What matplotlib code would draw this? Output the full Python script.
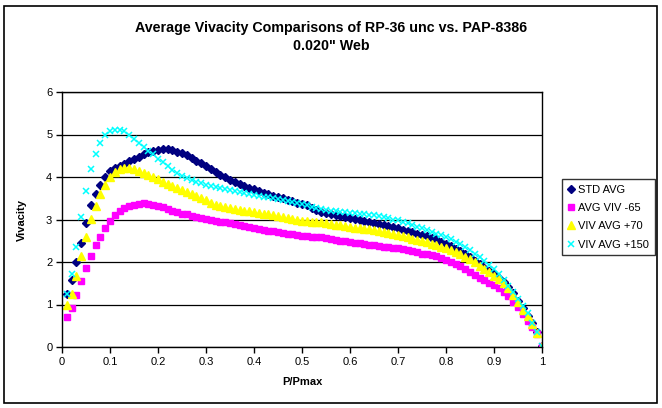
import matplotlib
matplotlib.use('Agg')
import matplotlib.pyplot as plt
from matplotlib.patches import Rectangle

# P/Pmax sample points (0.01 .. 1.00)
p_ratio = [round(0.01 * i, 2) for i in range(1, 101)]

std_avg = [
    1.25, 1.57, 2.01, 2.44, 2.92, 3.33, 3.61, 3.82, 4.00, 4.13,
    4.21, 4.27, 4.31, 4.37, 4.42, 4.47, 4.53, 4.58, 4.62, 4.64,
    4.65, 4.65, 4.63, 4.60, 4.56, 4.51, 4.45, 4.38, 4.32, 4.26,
    4.20, 4.12, 4.05, 3.99, 3.94, 3.89, 3.84, 3.79, 3.75, 3.71,
    3.67, 3.63, 3.59, 3.56, 3.53, 3.50, 3.46, 3.43, 3.40, 3.37,
    3.33, 3.27, 3.23, 3.18, 3.15, 3.12, 3.10, 3.08, 3.07, 3.04,
    3.02, 2.99, 2.97, 2.94, 2.92, 2.90, 2.87, 2.85, 2.82, 2.79,
    2.76, 2.73, 2.70, 2.67, 2.64, 2.61, 2.57, 2.53, 2.48, 2.43,
    2.37, 2.31, 2.25, 2.18, 2.11, 2.03, 1.95, 1.87, 1.79, 1.71,
    1.63, 1.54, 1.42, 1.27, 1.09, 0.91, 0.74, 0.56, 0.35, 0.02,
]

avg_viv_m65 = [
    0.70, 0.92, 1.22, 1.55, 1.85, 2.13, 2.40, 2.60, 2.80, 2.97,
    3.11, 3.20, 3.26, 3.31, 3.34, 3.37, 3.38, 3.37, 3.35, 3.32,
    3.29, 3.25, 3.21, 3.17, 3.14, 3.12, 3.09, 3.06, 3.04, 3.01,
    2.99, 2.97, 2.95, 2.93, 2.91, 2.89, 2.87, 2.85, 2.82, 2.80,
    2.78, 2.76, 2.74, 2.72, 2.70, 2.68, 2.67, 2.65, 2.63, 2.62,
    2.61, 2.60, 2.59, 2.58, 2.56, 2.54, 2.52, 2.50, 2.49, 2.47,
    2.45, 2.44, 2.42, 2.40, 2.39, 2.38, 2.36, 2.35, 2.34, 2.33,
    2.31, 2.28, 2.26, 2.23, 2.20, 2.18, 2.16, 2.13, 2.10, 2.05,
    2.01, 1.96, 1.90, 1.84, 1.77, 1.70, 1.63, 1.57, 1.51, 1.45,
    1.38, 1.30, 1.20, 1.06, 0.93, 0.78, 0.62, 0.47, 0.30, 0.02,
]

viv_avg_p70 = [
    1.00, 1.25, 1.68, 2.15, 2.60, 3.01, 3.32, 3.60, 3.82, 3.99,
    4.11, 4.18, 4.21, 4.21, 4.18, 4.14, 4.10, 4.05, 4.00, 3.95,
    3.89, 3.83, 3.78, 3.73, 3.69, 3.65, 3.61, 3.56, 3.51, 3.46,
    3.40, 3.35, 3.32, 3.29, 3.27, 3.25, 3.23, 3.21, 3.19, 3.18,
    3.16, 3.14, 3.12, 3.10, 3.08, 3.06, 3.04, 3.01, 2.99, 2.97,
    2.96, 2.95, 2.94, 2.93, 2.91, 2.89, 2.88, 2.86, 2.84, 2.82,
    2.81, 2.79, 2.78, 2.77, 2.75, 2.73, 2.71, 2.68, 2.66, 2.64,
    2.61, 2.58, 2.55, 2.52, 2.49, 2.46, 2.43, 2.40, 2.36, 2.32,
    2.28, 2.23, 2.18, 2.12, 2.07, 1.99, 1.91, 1.83, 1.76, 1.68,
    1.60, 1.51, 1.39, 1.23, 1.05, 0.88, 0.72, 0.55, 0.34, 0.02,
]

viv_avg_p150 = [
    1.25, 1.72, 2.35, 3.05, 3.66, 4.19, 4.53, 4.80, 4.99, 5.08,
    5.11, 5.11, 5.08, 5.00, 4.90, 4.80, 4.71, 4.62, 4.53, 4.43,
    4.35, 4.25, 4.17, 4.09, 4.02, 3.97, 3.93, 3.89, 3.85, 3.81,
    3.79, 3.77, 3.75, 3.72, 3.70, 3.68, 3.65, 3.63, 3.61, 3.58,
    3.56, 3.54, 3.52, 3.50, 3.48, 3.46, 3.44, 3.42, 3.40, 3.37,
    3.33, 3.29, 3.26, 3.24, 3.22, 3.20, 3.19, 3.18, 3.17, 3.16,
    3.15, 3.14, 3.13, 3.11, 3.10, 3.08, 3.06, 3.03, 3.00, 2.98,
    2.95, 2.91, 2.87, 2.83, 2.79, 2.75, 2.71, 2.67, 2.63, 2.58,
    2.53, 2.47, 2.42, 2.35, 2.28, 2.20, 2.11, 2.02, 1.93, 1.83,
    1.71, 1.58, 1.44, 1.29, 1.13, 0.97, 0.79, 0.57, 0.35, 0.02,
]

x_ticks = [0, 0.1, 0.2, 0.3, 0.4, 0.5, 0.6, 0.7, 0.8, 0.9, 1]
x_tick_labels = ['0', '0.1', '0.2', '0.3', '0.4', '0.5', '0.6', '0.7', '0.8', '0.9', '1']
y_ticks = [0, 1, 2, 3, 4, 5, 6]

plt.rcParams['font.family'] = ['Liberation Sans', 'DejaVu Sans']

fig = plt.figure(figsize=(6.62, 4.08), dpi=100)
ax = fig.add_axes([62 / 662, 1 - 347 / 408, 480 / 662, 255 / 408])

ax.plot(p_ratio, std_avg, linestyle='none', marker='D', markersize=4.4,
        color='#000080', label='STD AVG')
ax.plot(p_ratio, avg_viv_m65, linestyle='none', marker='s', markersize=4.4,
        color='#FF00FF', label='AVG VIV -65')
ax.plot(p_ratio, viv_avg_p70, linestyle='none', marker='^', markersize=5.6,
        color='#FFFF00', label='VIV AVG +70')
ax.plot(p_ratio, viv_avg_p150, linestyle='none', marker='x', markersize=5,
        markeredgewidth=1.1, color='#00FFFF', label='VIV AVG +150')

ax.set_xlim(0, 1)
ax.set_ylim(0, 6)
ax.set_xticks(x_ticks)
ax.set_xticklabels(x_tick_labels)
ax.set_yticks(y_ticks)
ax.tick_params(direction='out', length=4, width=1, labelsize=8, pad=3)
ax.grid(axis='y', color='black', linewidth=0.9)
ax.set_axisbelow(True)
for side in ['left', 'bottom', 'right', 'top']:
    ax.spines[side].set_linewidth(1.0)
    ax.spines[side].set_color('black')

fig.text(331 / 662, 1 - 37 / 408,
         'Average Vivacity Comparisons of RP-36 unc vs. PAP-8386\n0.020" Web',
         ha='center', va='center', fontsize=10.3, fontweight='bold', linespacing=1.45)
fig.text(22 / 662, 1 - 220 / 408, 'Vivacity', rotation=90, ha='center', va='center',
         fontsize=8, fontweight='bold')
fig.text(302 / 662, 1 - 382 / 408, 'P/Pmax', ha='center', va='center',
         fontsize=8, fontweight='bold')

leg = fig.legend(loc='upper left', bbox_to_anchor=(562 / 662, 1 - 179 / 408),
                 fontsize=8, frameon=True, fancybox=False, handlelength=0.7,
                 handletextpad=0.25, borderpad=0.5, labelspacing=0.75,
                 borderaxespad=0)
leg.get_frame().set_edgecolor('black')
leg.get_frame().set_linewidth(1.0)

# chart-area border
fig.patches.append(Rectangle((4 / 662, 5 / 408), 653 / 662, 397 / 408,
                             transform=fig.transFigure, fill=False,
                             edgecolor='black', linewidth=1.2))

fig.savefig('out.png', dpi=100)
plt.close(fig)
